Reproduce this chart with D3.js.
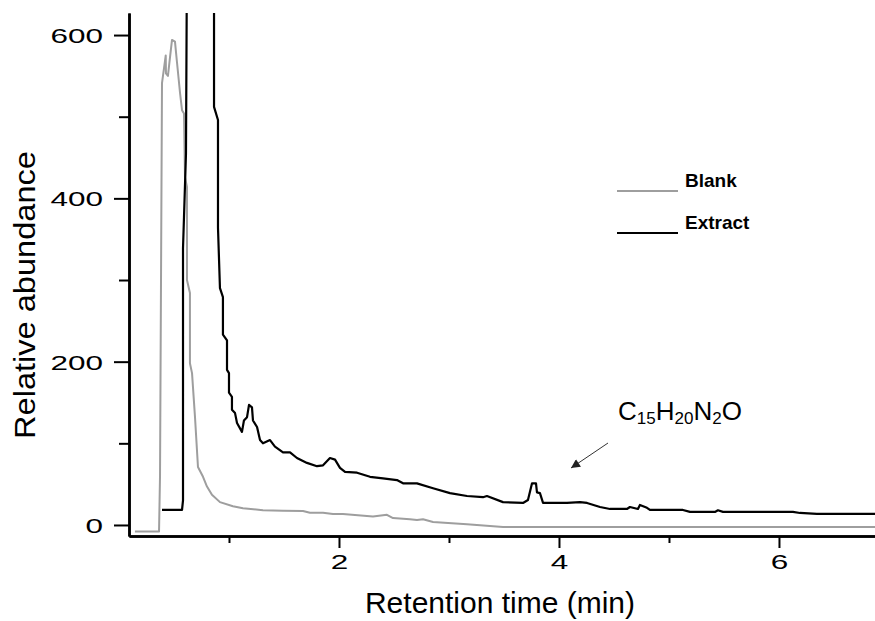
<!DOCTYPE html>
<html>
<head>
<meta charset="utf-8">
<script src="https://cdn.jsdelivr.net/npm/d3@7"></script>
<style>
  body { margin: 0; background: #fff; }
  svg { display: block; font-family: "Liberation Sans", Arial, sans-serif; }
</style>
</head>
<body>
<svg id="chart" width="875" height="621"></svg>
<script>
// retention time (min) / relative abundance
const blankTime = [0.145, 0.364, 0.373, 0.391, 0.425, 0.427, 0.445, 0.464, 0.482, 0.509,
  0.527, 0.555, 0.573, 0.591, 0.600, 0.618, 0.618, 0.645, 0.645, 0.664,
  0.691, 0.718, 0.764, 0.800, 0.845, 0.918, 1.036, 1.127, 1.309, 1.491,
  1.673, 1.736, 1.855, 1.945, 2.036, 2.309, 2.436, 2.491, 2.645, 2.709,
  2.764, 2.855, 3.164, 3.491, 6.873];
const blankAbund = [-8, -8, 60, 541, 575, 553, 550, 573, 594, 592,
  567, 529, 508, 504, 426, 414, 300, 284, 198, 186,
  132, 71, 59, 47, 37, 28, 23, 20.5, 18, 17.5,
  17, 15, 15, 13.5, 13.5, 10.5, 12.5, 8.5, 7, 6,
  7, 3.7, 1, -2.5, -2.5];

const extractTime = [0.391, 0.573, 0.582, 0.582, 0.591, 0.609, 0.618, 0.864, 0.864, 0.9,
  0.9, 0.918, 0.945, 0.945, 0.982, 0.982, 1.0, 1.0, 1.027, 1.027,
  1.055, 1.073, 1.118, 1.136, 1.164, 1.182, 1.209, 1.218, 1.255, 1.282,
  1.309, 1.373, 1.418, 1.491, 1.555, 1.618, 1.709, 1.8, 1.855, 1.918,
  1.964, 2.009, 2.055, 2.164, 2.282, 2.4, 2.527, 2.582, 2.709, 2.855,
  3.009, 3.164, 3.309, 3.345, 3.491, 3.673, 3.718, 3.755, 3.791, 3.8,
  3.827, 3.855, 3.945, 4.073, 4.191, 4.255, 4.373, 4.464, 4.618, 4.645,
  4.718, 4.736, 4.8, 4.827, 5.127, 5.191, 5.418, 5.445, 5.491, 6.127,
  6.191, 6.345, 6.873];
const extractAbund = [18.4, 18.4, 30, 339, 377, 455, 700, 700, 512, 496,
  364, 290, 279, 233, 226, 190, 186, 162, 157, 141,
  137, 125, 114, 128, 132, 147, 144, 128, 120, 104,
  100, 104, 96, 89, 89, 82, 76, 72, 73, 82,
  80, 70, 65, 64, 59, 57, 55, 51, 51, 45,
  39, 35.5, 34, 35.5, 28, 27, 30.6, 51, 51, 40,
  39, 27, 27, 27, 28, 27, 22, 19.6, 19.6, 22,
  19.6, 24.5, 21, 18.4, 18.4, 16, 16, 18, 16, 16,
  14.7, 13.5, 13.5];

const xMajor = [2, 4, 6];
const xMinor = [1, 3, 5];
const yMajor = [0, 200, 400, 600];
const yMinor = [100, 300, 500];

const seriesNames = ["Blank", "Extract"];
const colors = { "Blank": "#9e9e9e", "Extract": "#000000" };

const svg = d3.select("#chart");
const margin = { left: 129, right: 875, top: 13, bottom: 536 };

const x = d3.scaleLinear().domain([0.091, 6.873]).range([margin.left, margin.right]);
const y = d3.scaleLinear().domain([-13.5, 627]).range([margin.bottom, margin.top]);

const defs = svg.append("defs");
defs.append("clipPath").attr("id", "plot")
  .append("rect").attr("x", margin.left).attr("y", margin.top)
  .attr("width", margin.right - margin.left).attr("height", margin.bottom - margin.top);

const blank = blankTime.map((t, i) => ({ t: t, v: blankAbund[i] }));
const extract = extractTime.map((t, i) => ({ t: t, v: extractAbund[i] }));

const line = d3.line().x(d => x(d.t)).y(d => y(d.v));

const plot = svg.append("g").attr("clip-path", "url(#plot)");
plot.append("path").datum(blank)
  .attr("d", line).attr("fill", "none")
  .attr("stroke", colors.Blank).attr("stroke-width", 2)
  .attr("stroke-linejoin", "round");
plot.append("path").datum(extract)
  .attr("d", line).attr("fill", "none")
  .attr("stroke", colors.Extract).attr("stroke-width", 2.2)
  .attr("stroke-linejoin", "round");

// axes: major ticks with labels, minor ticks without
function styleAxis(g) {
  g.select(".domain").attr("stroke-width", 2.5);
  g.selectAll(".tick line").attr("stroke-width", 2);
}

const xAxisMinor = svg.append("g").attr("transform", `translate(0,${margin.bottom})`)
  .call(d3.axisBottom(x).tickValues(xMinor).tickSize(7).tickSizeOuter(0).tickFormat(""));
styleAxis(xAxisMinor);
const xAxis = svg.append("g").attr("transform", `translate(0,${margin.bottom})`)
  .call(d3.axisBottom(x).tickValues(xMajor).tickSize(12).tickSizeOuter(0).tickFormat(d3.format("d")));
styleAxis(xAxis);
xAxis.selectAll(".tick text")
  .attr("y", null).attr("dy", null)
  .attr("transform", "translate(0,33) scale(1.5,1)")
  .style("font-size", "21px").attr("fill", "#000");

const yAxisMinor = svg.append("g").attr("transform", `translate(${margin.left},0)`)
  .call(d3.axisLeft(y).tickValues(yMinor).tickSize(10).tickSizeOuter(0).tickFormat(""));
styleAxis(yAxisMinor);
const yAxis = svg.append("g").attr("transform", `translate(${margin.left},0)`)
  .call(d3.axisLeft(y).tickValues(yMajor).tickSize(15).tickSizeOuter(0).tickFormat(d3.format("d")));
styleAxis(yAxis);
yAxis.selectAll(".tick text")
  .attr("x", null).attr("dy", "0.36em")
  .attr("transform", "translate(-26,0) scale(1.5,1)")
  .style("font-size", "21px").attr("fill", "#000");

// axis titles
svg.append("text")
  .attr("x", 500).attr("y", 613)
  .attr("text-anchor", "middle")
  .style("font-size", "30px")
  .text("Retention time (min)");

svg.append("text")
  .attr("transform", "translate(35,295) rotate(-90)")
  .attr("text-anchor", "middle")
  .attr("textLength", 288).attr("lengthAdjust", "spacingAndGlyphs")
  .style("font-size", "30px")
  .text("Relative abundance");

// legend
const legendY = [191, 233];
seriesNames.forEach((name, i) => {
  svg.append("line")
    .attr("x1", 617).attr("x2", 678)
    .attr("y1", legendY[i]).attr("y2", legendY[i])
    .attr("stroke", colors[name]).attr("stroke-width", 2);
  svg.append("text")
    .attr("x", 685).attr("y", legendY[i] - 4)
    .style("font-size", "19px").style("font-weight", "bold")
    .text(name);
});

// annotation
const label = svg.append("text")
  .attr("x", 618).attr("y", 420)
  .style("font-size", "26px");
let shift = 0;
[["C", false], ["15", true], ["H", false], ["20", true], ["N", false], ["2", true], ["O", false]]
  .forEach(([s, sub]) => {
    const dy = (sub ? 4 : 0) - shift;
    shift = sub ? 4 : 0;
    label.append("tspan")
      .attr("dy", dy)
      .style("font-size", sub ? "17px" : "26px")
      .text(s);
  });

defs.append("marker")
  .attr("id", "arrow").attr("viewBox", "0 0 10 10")
  .attr("refX", 10).attr("refY", 5)
  .attr("markerWidth", 11).attr("markerHeight", 9)
  .attr("markerUnits", "userSpaceOnUse")
  .attr("orient", "auto")
  .append("path").attr("d", "M0,0 L10,5 L0,10 z").attr("fill", "#222");

svg.append("line")
  .attr("x1", 608).attr("y1", 443)
  .attr("x2", 571).attr("y2", 468)
  .attr("stroke", "#333").attr("stroke-width", 1)
  .attr("marker-end", "url(#arrow)");
</script>
</body>
</html>
